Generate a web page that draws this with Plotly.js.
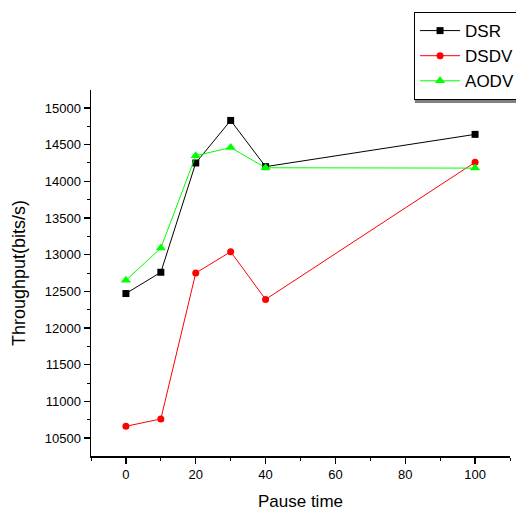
<!DOCTYPE html>
<html>
<head>
<meta charset="utf-8">
<script src="https://cdn.plot.ly/plotly-3.0.1.min.js"></script>
<style>html,body{margin:0;padding:0;background:#fff;}#chart{width:516px;height:514px;}</style>
</head>
<body>
<div id="chart"></div>
<script>
const pauseTime = [0, 10, 20, 30, 40, 100];
const dsr  = [12470, 12760, 14250, 14830, 14200, 14640];
const dsdv = [10660, 10760, 12750, 13040, 12390, 14260];
const aodv = [12650, 13090, 14350, 14460, 14185, 14180];
const seriesNames = ['DSR', 'DSDV', 'AODV'];
const xTickVals = [0, 20, 40, 60, 80, 100];
const yTickVals = [10500, 11000, 11500, 12000, 12500, 13000, 13500, 14000, 14500, 15000];

const FONT = 'Liberation Sans, Arial, sans-serif';

const traces = [
  {x: pauseTime, y: dsr, name: seriesNames[0], mode: 'lines+markers',
   line: {color: '#000000', width: 1}, marker: {symbol: 'square', size: 7, color: '#000000'}},
  {x: pauseTime, y: dsdv, name: seriesNames[1], mode: 'lines+markers',
   line: {color: '#ff0000', width: 1}, marker: {symbol: 'circle', size: 7, color: '#ff0000'}},
  {x: pauseTime, y: aodv, name: seriesNames[2], mode: 'lines+markers',
   line: {color: '#00ff00', width: 1}, marker: {symbol: 'triangle-up', size: 9, color: '#00ff00'}}
];

const layout = {
  width: 516, height: 514,
  margin: {l: 91, r: 6, t: 90, b: 58, autoexpand: false},
  paper_bgcolor: '#ffffff', plot_bgcolor: '#ffffff',
  font: {family: FONT, color: '#000000', size: 13},
  showlegend: true,
  legend: {
    x: 0.771, y: 1.213, xanchor: 'left', yanchor: 'top',
    bgcolor: '#ffffff', bordercolor: '#000000', borderwidth: 1,
    font: {family: FONT, size: 17, color: '#000000'},
    itemwidth: 40, tracegroupgap: 0
  },
  xaxis: {
    range: [-10, 110], showgrid: false, zeroline: false,
    showline: true, linecolor: '#000000', linewidth: 1.5,
    ticks: 'outside', ticklen: 6, tickwidth: 1.2, tickcolor: '#000000',
    tickvals: xTickVals, ticktext: xTickVals.map(String),
    minor: {dtick: 10, tick0: 0, ticks: 'outside', ticklen: 3, tickcolor: '#000000', tickwidth: 1},
    tickfont: {family: FONT, size: 13},
    title: {text: 'Pause time', font: {family: FONT, size: 17}, standoff: 14}
  },
  yaxis: {
    range: [10255, 15245], showgrid: false, zeroline: false,
    showline: true, linecolor: '#000000', linewidth: 1.5,
    ticks: 'outside', ticklen: 6, tickwidth: 1.2, tickcolor: '#000000',
    tickvals: yTickVals, ticktext: yTickVals.map(String),
    minor: {dtick: 250, tick0: 10000, ticks: 'outside', ticklen: 3, tickcolor: '#000000', tickwidth: 1},
    tickfont: {family: FONT, size: 13},
    title: {text: 'Throughput(bits/s)', font: {family: FONT, size: 18}, standoff: 14}
  },
  shapes: [
    {type: 'rect', xref: 'paper', yref: 'paper', layer: 'below',
     x0: 0.773, x1: 1.03, y0: 0.9645, y1: 1.2,
     fillcolor: '#808080', line: {width: 0}}
  ]
};

Plotly.newPlot('chart', traces, layout, {displayModeBar: false, staticPlot: true});
</script>
</body>
</html>
